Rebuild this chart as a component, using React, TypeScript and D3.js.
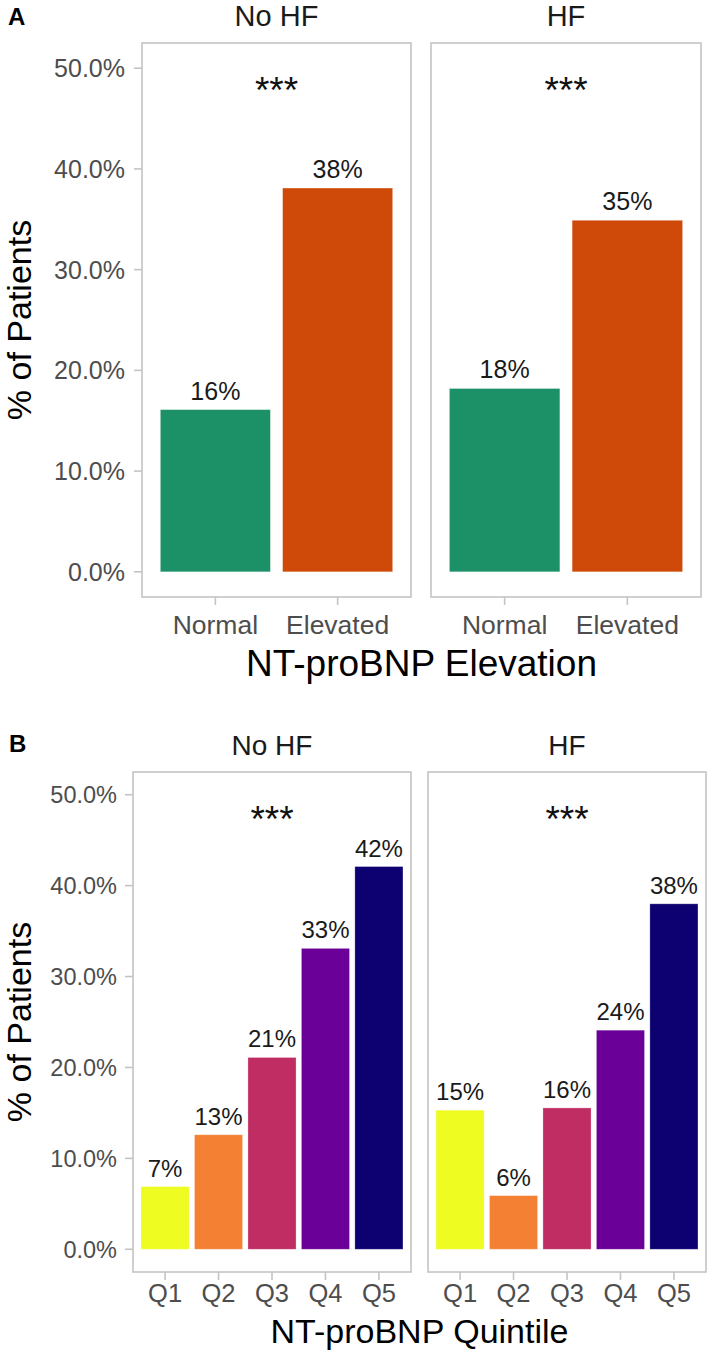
import React from "react";
import * as d3 from "d3";

// ---- Data ----
const facetNames = ["No HF", "HF"];

const elevationCategories = ["Normal", "Elevated"];
const elevationNoHF = [16.1, 38.1];
const elevationHF = [18.2, 34.9];
const elevationColors = ["#1c9067", "#cf4a09"];

const quintileCategories = ["Q1", "Q2", "Q3", "Q4", "Q5"];
const quintileNoHF = [6.9, 12.6, 21.1, 33.1, 42.1];
const quintileHF = [15.3, 5.9, 15.55, 24.1, 38.0];
const quintileColors = ["#eefc21", "#f48034", "#bf2d62", "#6a0097", "#0d0070"];

const yTicks = [0, 10, 20, 30, 40, 50];
const significance = ["***", "***"];
const yTitle = "% of Patients";
const xTitleA = "NT-proBNP Elevation";
const xTitleB = "NT-proBNP Quintile";

const FONT = "'Liberation Sans', Arial, Helvetica, sans-serif";
const fmtTick = (v: number) => d3.format(".1f")(v) + "%";

type FacetProps = {
  x0: number; x1: number; y0: number; y1: number;
  cats: string[]; values: number[]; colors: string[];
  strip: string; stars: string; showY: boolean;
  tickSize: number; xTickSize: number; stripSize: number; valueSize: number; starSize: number;
  stripBaseline: number; tickLabelGap: number; xLabelBaseline: number; starsDy: number;
};

function Facet(p: FacetProps) {
  const y = d3.scaleLinear().domain([-2.5, 52.5]).range([p.y1, p.y0]);
  const x = d3.scaleBand<string>().domain(p.cats).range([p.x0, p.x1]).paddingInner(0.1).paddingOuter(0.15);
  const cx = (p.x0 + p.x1) / 2;
  return (
    <g>
      <text x={cx} y={p.stripBaseline} textAnchor="middle" fontSize={p.stripSize} fill="#1a1a1a">{p.strip}</text>
      {p.cats.map((c, i) => (
        <rect key={c} x={x(c)} y={y(p.values[i])} width={x.bandwidth()} height={y(0) - y(p.values[i])}
          fill={p.colors[i]} stroke="#ffffff" strokeOpacity={0.35} strokeWidth={0.8} />
      ))}
      {p.cats.map((c, i) => (
        <text key={"v" + c} x={(x(c) as number) + x.bandwidth() / 2} y={y(p.values[i]) - 10}
          textAnchor="middle" fontSize={p.valueSize} fill="#1a1a1a">{Math.round(p.values[i]) + "%"}</text>
      ))}
      <text x={cx} y={y(50) + p.starsDy} textAnchor="middle" fontSize={p.starSize} fill="#111">{p.stars}</text>
      <rect x={p.x0} y={p.y0} width={p.x1 - p.x0} height={p.y1 - p.y0} fill="none" stroke="#c4c4c4" strokeWidth={1.6} />
      {p.showY && yTicks.map(t => (
        <g key={t}>
          <line x1={p.x0 - 8} x2={p.x0} y1={y(t)} y2={y(t)} stroke="#c4c4c4" strokeWidth={1.6} />
          <text x={p.x0 - p.tickLabelGap} y={y(t)} dy="0.36em" textAnchor="end" fontSize={p.tickSize} fill="#4d4d4d">{fmtTick(t)}</text>
        </g>
      ))}
      {p.cats.map(c => {
        const xc = (x(c) as number) + x.bandwidth() / 2;
        return (
          <g key={"x" + c}>
            <line x1={xc} x2={xc} y1={p.y1} y2={p.y1 + 8} stroke="#c4c4c4" strokeWidth={1.6} />
            <text x={xc} y={p.xLabelBaseline} textAnchor="middle" fontSize={p.xTickSize} fill="#4d4d4d">{c}</text>
          </g>
        );
      })}
    </g>
  );
}

export default function App() {
  const W = 709, H = 1353;
  const A = { y0: 43, y1: 597, left: [142, 411], right: [431, 701] };
  const B = { y0: 772, y1: 1272, left: [133, 411], right: [428, 706] };
  const commonA = { tickSize: 25, xTickSize: 26.5, stripSize: 29, valueSize: 25, starSize: 37, stripBaseline: 26, tickLabelGap: 17, xLabelBaseline: 634, starsDy: 35 };
  const commonB = { tickSize: 23.5, xTickSize: 25.5, stripSize: 28, valueSize: 24, starSize: 37, stripBaseline: 755, tickLabelGap: 16, xLabelBaseline: 1302, starsDy: 37 };
  return (
    <svg width={W} height={H} viewBox={`0 0 ${W} ${H}`} style={{ position: "absolute", left: 0, top: 0, background: "#fff" }} fontFamily={FONT}>
      <rect x={0} y={0} width={W} height={H} fill="#fff" />
      {/* Panel A */}
      <text x={8} y={25} fontSize={24} fontWeight="bold" fill="#000">A</text>
      <Facet {...commonA} x0={A.left[0]} x1={A.left[1]} y0={A.y0} y1={A.y1} cats={elevationCategories} values={elevationNoHF} colors={elevationColors} strip={facetNames[0]} stars={significance[0]} showY={true} />
      <Facet {...commonA} x0={A.right[0]} x1={A.right[1]} y0={A.y0} y1={A.y1} cats={elevationCategories} values={elevationHF} colors={elevationColors} strip={facetNames[1]} stars={significance[1]} showY={false} />
      <text transform={`translate(31,${(A.y0 + A.y1) / 2}) rotate(-90)`} textAnchor="middle" fontSize={34} fill="#000">{yTitle}</text>
      <text x={(A.left[0] + A.right[1]) / 2} y={676} textAnchor="middle" fontSize={37} fill="#000">{xTitleA}</text>
      {/* Panel B */}
      <text x={9} y={752} fontSize={24} fontWeight="bold" fill="#000">B</text>
      <Facet {...commonB} x0={B.left[0]} x1={B.left[1]} y0={B.y0} y1={B.y1} cats={quintileCategories} values={quintileNoHF} colors={quintileColors} strip={facetNames[0]} stars={significance[0]} showY={true} />
      <Facet {...commonB} x0={B.right[0]} x1={B.right[1]} y0={B.y0} y1={B.y1} cats={quintileCategories} values={quintileHF} colors={quintileColors} strip={facetNames[1]} stars={significance[1]} showY={false} />
      <text transform={`translate(31,${(B.y0 + B.y1) / 2}) rotate(-90)`} textAnchor="middle" fontSize={34} fill="#000">{yTitle}</text>
      <text x={(B.left[0] + B.right[1]) / 2} y={1343} textAnchor="middle" fontSize={34} fill="#000">{xTitleB}</text>
    </svg>
  );
}
